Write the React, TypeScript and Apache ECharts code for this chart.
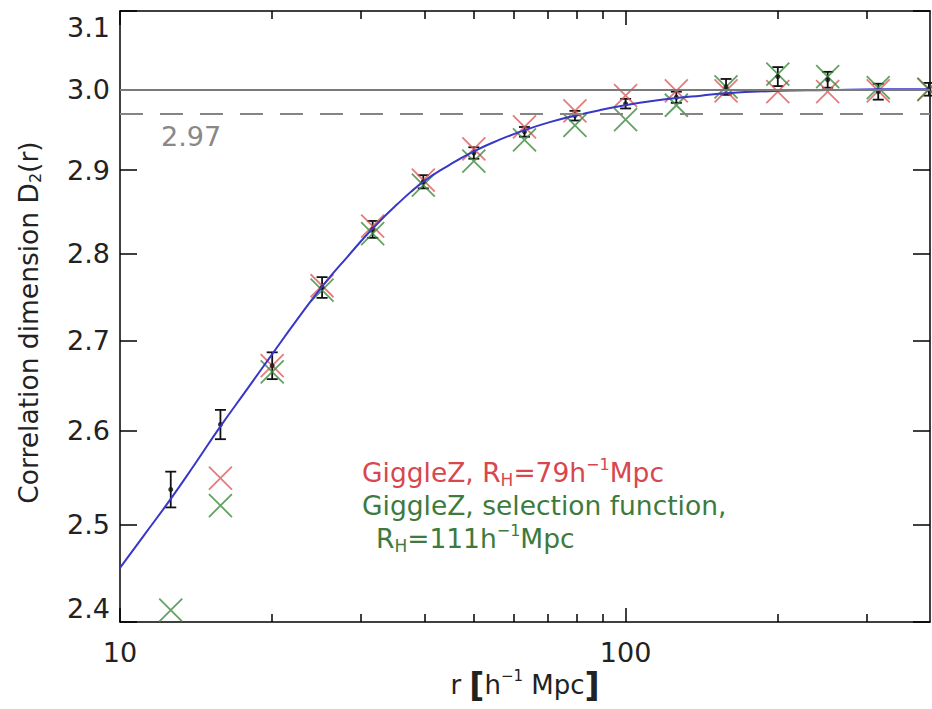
import React, { useEffect, useRef } from 'react';
import * as echarts from 'echarts';

// ---- data ----
const rValues = [12.6, 15.8, 20.0, 25.1, 31.6, 39.8, 50.1, 63.1, 79.4, 100, 126, 158, 200, 251, 316, 398];
const d2Values = [2.537, 2.607, 2.672, 2.761, 2.829, 2.886, 2.921, 2.947, 2.967, 2.982, 2.990, 3.003, 3.016, 3.012, 2.997, 3.000];
const d2Errors = [0.019, 0.016, 0.015, 0.012, 0.010, 0.008, 0.007, 0.006, 0.006, 0.006, 0.007, 0.010, 0.012, 0.010, 0.010, 0.008];
const redValues: (number | null)[] = [null, 2.549, 2.672, 2.763, 2.833, 2.888, 2.926, 2.953, 2.973, 2.992, 2.998, 2.998, 2.997, 2.997, 2.998, 3.000];
const greenValues: (number | null)[] = [2.412, 2.520, 2.665, 2.758, 2.824, 2.882, 2.911, 2.937, 2.955, 2.962, 2.980, 3.003, 3.019, 3.016, 3.002, 3.000];

const fitR = [10, 11.2, 12.6, 14.1, 15.8, 17.8, 20, 22.4, 25.1, 28.2, 31.6, 35.5, 39.8, 44.7, 50.1, 56.2, 63.1, 70.8, 79.4, 89.1, 100, 112, 126, 141, 158, 200, 251, 316, 398];
const fitValues = [2.455, 2.49, 2.527, 2.565, 2.605, 2.645, 2.685, 2.724, 2.762, 2.797, 2.830, 2.860, 2.886, 2.906, 2.923, 2.937, 2.949, 2.959, 2.967, 2.974, 2.980, 2.985, 2.989, 2.992, 2.995, 2.998, 2.999, 3.0, 3.0];

const xMajorTicks = [10, 100];
const xMinorTicks = [20, 30, 40, 50, 60, 70, 80, 90, 200, 300];
const yTicks = [2.4, 2.5, 2.6, 2.7, 2.8, 2.9, 3.0, 3.1];
const refSolid = 3.0;
const refDashed = 2.97;
const refDashedLabel = '2.97';

const FONT = 'DejaVu Sans';
const X_MIN = 10, X_MAX = 400, Y_MIN = 2.4, Y_MAX = 3.1;

const xShape = 'path://M0 0L10 10M10 0L0 10';

export default function App() {
  const ref = useRef<HTMLDivElement>(null);
  useEffect(() => {
    if (!ref.current) return;
    const chart = echarts.init(ref.current, null, { renderer: 'svg' });

    const baseX = {
      type: 'log', logBase: 10, min: X_MIN, max: X_MAX,
      splitLine: { show: false }, nameMoveOverlap: false,
    };
    const baseY = {
      type: 'log', logBase: 10, min: Y_MIN, max: Y_MAX,
      splitLine: { show: false }, nameMoveOverlap: false,
    };
    const axisLineStyle = { show: true, lineStyle: { color: '#000', width: 1.5 } };
    const tickLine = { color: '#000', width: 1.5 };

    const errData = rValues.map((r, i) => [r, d2Values[i] - d2Errors[i], d2Values[i] + d2Errors[i]]);
    const redData = rValues.map((r, i) => [r, redValues[i]]).filter((d) => d[1] != null);
    const greenData = rValues.map((r, i) => [r, greenValues[i]]).filter((d) => d[1] != null);

    const option: any = {
      animation: false,
      backgroundColor: '#fff',
      grid: { left: 120, right: 2, top: 11, bottom: 87, containLabel: false, outerBoundsMode: 'none' },
      xAxis: [
        {
          ...baseX, position: 'bottom',
          axisLine: axisLineStyle,
          axisTick: { show: true, inside: true, length: 14, customValues: xMajorTicks, lineStyle: tickLine },
          axisLabel: {
            show: true, customValues: xMajorTicks, margin: 17,
            formatter: (v: number) => String(Math.round(v)),
            fontFamily: FONT, fontSize: 27, color: '#222',
          },
          name: 'r {br|[}h{sup|\u22121} Mpc{br|]}',
          nameLocation: 'middle', nameGap: 46,
          nameTextStyle: {
            fontFamily: FONT, fontSize: 26, color: '#222', lineHeight: 34,
            rich: {
              br: { fontFamily: FONT, fontSize: 33, fontWeight: 'bold', color: '#222', lineHeight: 34 },
              sup: { fontFamily: FONT, fontSize: 15, color: '#222', lineHeight: 17, verticalAlign: 'top' },
            },
          },
        },
        {
          ...baseX, position: 'bottom',
          axisLine: { show: false },
          axisTick: { show: true, inside: true, length: 8, customValues: xMinorTicks, lineStyle: tickLine },
          axisLabel: { show: false },
        },
        {
          ...baseX, position: 'top',
          axisLine: axisLineStyle,
          axisTick: { show: true, inside: true, length: 14, customValues: xMajorTicks, lineStyle: tickLine },
          axisLabel: { show: false },
        },
        {
          ...baseX, position: 'top',
          axisLine: { show: false },
          axisTick: { show: true, inside: true, length: 8, customValues: xMinorTicks, lineStyle: tickLine },
          axisLabel: { show: false },
        },
      ],
      yAxis: [
        {
          ...baseY, position: 'left',
          axisLine: axisLineStyle,
          axisTick: { show: true, inside: true, length: 17, customValues: yTicks, lineStyle: tickLine },
          axisLabel: {
            show: true, customValues: yTicks, margin: 10,
            formatter: (v: number) => v.toFixed(1),
            fontFamily: FONT, fontSize: 27, color: '#222',
            padding: [3, 0, 0, 0],
            verticalAlignMinLabel: 'bottom',
            verticalAlignMaxLabel: 'top',
          },
          name: 'Correlation dimension D{sub|2}(r)',
          nameLocation: 'middle', nameGap: 77,
          nameTextStyle: {
            fontFamily: FONT, fontSize: 26.5, color: '#222', lineHeight: 30,
            padding: [0, 12, 0, 0],
            rich: {
              sub: { fontFamily: FONT, fontSize: 16, color: '#222', lineHeight: 15, verticalAlign: 'bottom' },
            },
          },
        },
        {
          ...baseY, position: 'right',
          axisLine: axisLineStyle,
          axisTick: { show: true, inside: true, length: 17, customValues: yTicks, lineStyle: tickLine },
          axisLabel: { show: false },
        },
      ],
      graphic: [
        {
          type: 'text', x: 161, y: 136, silent: true,
          style: { text: refDashedLabel, fill: '#888', fontFamily: FONT, fontSize: 27, verticalAlign: 'middle', align: 'left' },
        },
        {
          type: 'text', x: 362, y: 472, silent: true,
          style: {
            text: 'GiggleZ, R{s|H}=79h{p|\u22121}Mpc',
            fill: '#d8474e', fontFamily: FONT, fontSize: 26.5, lineHeight: 32, verticalAlign: 'middle', align: 'left',
            rich: {
              s: { fill: '#d8474e', fontFamily: FONT, fontSize: 17, lineHeight: 16, verticalAlign: 'bottom' },
              p: { fill: '#d8474e', fontFamily: FONT, fontSize: 16, lineHeight: 15, verticalAlign: 'top' },
            },
          },
        },
        {
          type: 'text', x: 362, y: 505, silent: true,
          style: { text: 'GiggleZ, selection function,', fill: '#3d7a3d', fontFamily: FONT, fontSize: 26.5, verticalAlign: 'middle', align: 'left' },
        },
        {
          type: 'text', x: 376, y: 538, silent: true,
          style: {
            text: 'R{s|H}=111h{p|\u22121}Mpc',
            fill: '#3d7a3d', fontFamily: FONT, fontSize: 26.5, lineHeight: 32, verticalAlign: 'middle', align: 'left',
            rich: {
              s: { fill: '#3d7a3d', fontFamily: FONT, fontSize: 17, lineHeight: 16, verticalAlign: 'bottom' },
              p: { fill: '#3d7a3d', fontFamily: FONT, fontSize: 16, lineHeight: 15, verticalAlign: 'top' },
            },
          },
        },
      ],
      series: [
        {
          type: 'line', name: 'ref', data: [], xAxisIndex: 0, yAxisIndex: 0,
          markLine: {
            silent: true, symbol: 'none', label: { show: false },
            data: [
              { yAxis: refSolid, lineStyle: { color: '#7a7a7a', width: 1.8, type: 'solid' } },
              { yAxis: refDashed, lineStyle: { color: '#858585', width: 2, type: [23, 17] } },
            ],
          },
        },
        {
          type: 'scatter', name: 'GiggleZ', data: redData, symbol: xShape, symbolSize: 23,
          itemStyle: { color: 'rgba(0,0,0,0)', borderColor: '#e05a5a', borderWidth: 1.8 },
          clip: true,
        },
        {
          type: 'scatter', name: 'GiggleZ selection', data: greenData, symbol: xShape, symbolSize: 23,
          itemStyle: { color: 'rgba(0,0,0,0)', borderColor: '#3f8a3f', borderWidth: 1.8 },
          clip: true,
        },
        {
          type: 'line', name: 'fit', data: fitR.map((r, i) => [r, fitValues[i]]),
          smooth: true, showSymbol: false, symbol: 'none',
          lineStyle: { color: '#3737c8', width: 2 },
        },
        {
          type: 'custom', name: 'errors', data: errData,
          encode: { x: 0, y: [1, 2] },
          renderItem: (params: any, api: any) => {
            const x = api.value(0);
            const lo = api.coord([x, api.value(1)]);
            const hi = api.coord([x, api.value(2)]);
            const w = 5.5;
            const st = { stroke: '#111', lineWidth: 1.8 };
            return {
              type: 'group',
              children: [
                { type: 'line', shape: { x1: lo[0], y1: lo[1], x2: hi[0], y2: hi[1] }, style: st },
                { type: 'line', shape: { x1: hi[0] - w, y1: hi[1], x2: hi[0] + w, y2: hi[1] }, style: st },
                { type: 'line', shape: { x1: lo[0] - w, y1: lo[1], x2: lo[0] + w, y2: lo[1] }, style: st },
              ],
            };
          },
        },
        {
          type: 'scatter', name: 'D2', data: rValues.map((r, i) => [r, d2Values[i]]),
          symbol: 'circle', symbolSize: 5, itemStyle: { color: '#111' },
        },
      ],
    };
    chart.setOption(option);
    return () => chart.dispose();
  }, []);
  return <div ref={ref} style={{ position: 'fixed', left: 0, top: 0, width: 932, height: 709, background: '#fff' }} />;
}
